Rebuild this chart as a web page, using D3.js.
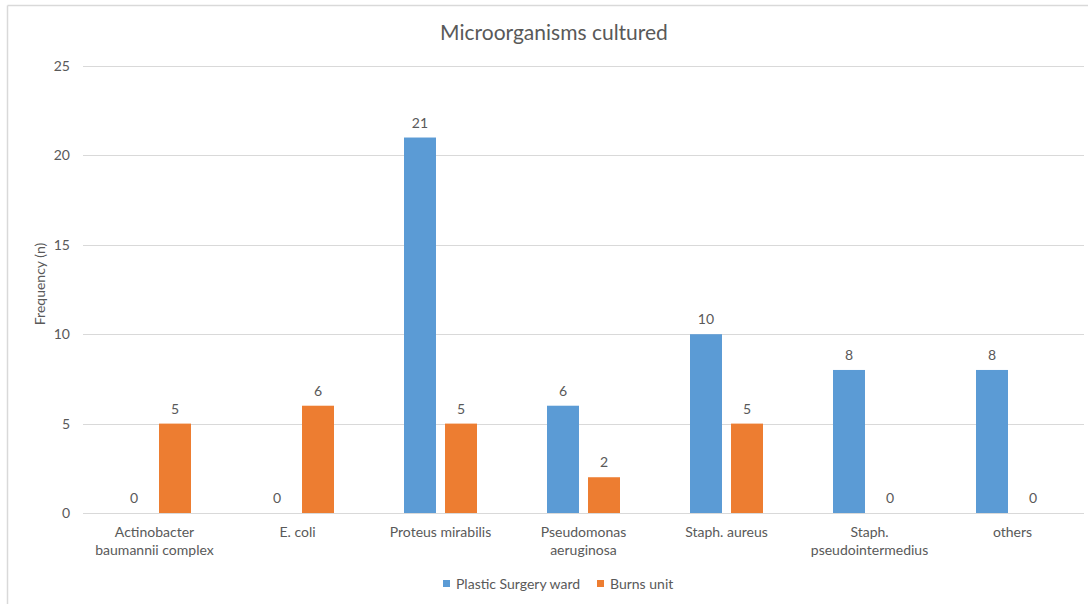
<!DOCTYPE html>
<html>
<head>
<meta charset="utf-8">
<script src="https://cdn.jsdelivr.net/npm/d3@7"></script>
<style>
  html, body { margin: 0; padding: 0; background: #fff; }
  svg { display: block; font-family: Lato, "Open Sans", sans-serif; }
</style>
</head>
<body>
<svg id="chart" width="1088" height="604"></svg>
<script>
// Organisms cultured, counts per ward
const categories = [
  ["Actinobacter", "baumannii complex"],
  ["E. coli"],
  ["Proteus mirabilis"],
  ["Pseudomonas", "aeruginosa"],
  ["Staph. aureus"],
  ["Staph.", "pseudointermedius"],
  ["others"]
];
const seriesNames = ["Plastic Surgery ward", "Burns unit"];
const plasticSurgery = [0, 0, 21, 6, 10, 8, 8];
const burnsUnit = [5, 6, 5, 2, 5, 0, 0];
const yTicks = [0, 5, 10, 15, 20, 25];
const colors = ["#5B9BD5", "#ED7D31"];

const svg = d3.select("#chart");
const textColor = "#595959";
const fs = 14;

// outer frame (top and left edges visible)
svg.append("line").attr("x1", 7.5).attr("x2", 1088).attr("y1", 5.5).attr("y2", 5.5)
  .attr("stroke", "#D9D9D9").attr("stroke-width", 1.5);
svg.append("line").attr("x1", 7.5).attr("x2", 7.5).attr("y1", 5.5).attr("y2", 604)
  .attr("stroke", "#D9D9D9").attr("stroke-width", 1.5);

const margin = { left: 83, right: 1084, top: 66, bottom: 513 };

const x0 = d3.scaleBand()
  .domain(d3.range(categories.length))
  .range([margin.left, margin.right])
  .paddingInner(0).paddingOuter(0);

const x1 = d3.scaleBand()
  .domain([0, 1])
  .range([35, x0.bandwidth() - 35])
  .paddingInner(0.22);

const y = d3.scaleLinear().domain([0, 25]).range([margin.bottom, margin.top]);

// gridlines
svg.append("g")
  .selectAll("line")
  .data(yTicks)
  .join("line")
  .attr("x1", margin.left).attr("x2", margin.right)
  .attr("y1", d => Math.round(y(d)) + 0.5).attr("y2", d => Math.round(y(d)) + 0.5)
  .attr("stroke", "#D9D9D9").attr("stroke-width", 1);

// y tick labels
const yAxis = svg.append("g")
  .attr("transform", `translate(${margin.left - 13},0)`)
  .call(d3.axisLeft(y).tickValues(yTicks).tickSize(0).tickPadding(0));
yAxis.select(".domain").remove();
yAxis.selectAll("text")
  .attr("fill", textColor).attr("font-size", fs)
  .style("font-family", "Lato, 'Open Sans', sans-serif");

// bars
const series = [plasticSurgery, burnsUnit];
const groups = svg.append("g")
  .selectAll("g")
  .data(categories)
  .join("g")
  .attr("transform", (d, i) => `translate(${x0(i)},0)`);

groups.each(function (cat, i) {
  const g = d3.select(this);
  series.forEach((vals, s) => {
    const v = vals[i];
    g.append("rect")
      .attr("x", x1(s))
      .attr("width", x1.bandwidth())
      .attr("y", y(v))
      .attr("height", y(0) - y(v))
      .attr("fill", colors[s]);
    g.append("text")
      .attr("x", x1(s) + x1.bandwidth() / 2)
      .attr("y", y(v) - 10)
      .attr("text-anchor", "middle")
      .attr("fill", textColor)
      .attr("font-size", fs)
      .text(v);
  });
});

// category labels
const xAxis = svg.append("g");
categories.forEach((lines, i) => {
  const t = xAxis.append("text")
    .attr("x", x0(i) + x0.bandwidth() / 2)
    .attr("y", 537)
    .attr("text-anchor", "middle")
    .attr("fill", textColor)
    .attr("font-size", fs);
  lines.forEach((ln, k) => {
    t.append("tspan").attr("x", x0(i) + x0.bandwidth() / 2).attr("dy", k === 0 ? 0 : 17.5).text(ln);
  });
});

// title
svg.append("text")
  .attr("x", 554).attr("y", 40)
  .attr("text-anchor", "middle")
  .attr("fill", textColor)
  .attr("font-size", 21)
  .text("Microorganisms cultured");

// y axis title
svg.append("text")
  .attr("transform", "translate(45,284) rotate(-90)")
  .attr("text-anchor", "middle")
  .attr("fill", textColor)
  .attr("font-size", fs)
  .text("Frequency (n)");

// legend
const legendItems = [
  { name: seriesNames[0], color: colors[0], x: 443 },
  { name: seriesNames[1], color: colors[1], x: 597 }
];
const legend = svg.append("g");
legendItems.forEach(it => {
  legend.append("rect").attr("x", it.x).attr("y", 580).attr("width", 7).attr("height", 7).attr("fill", it.color);
  legend.append("text").attr("x", it.x + 13).attr("y", 589)
    .attr("fill", textColor).attr("font-size", fs).text(it.name);
});
</script>
</body>
</html>
